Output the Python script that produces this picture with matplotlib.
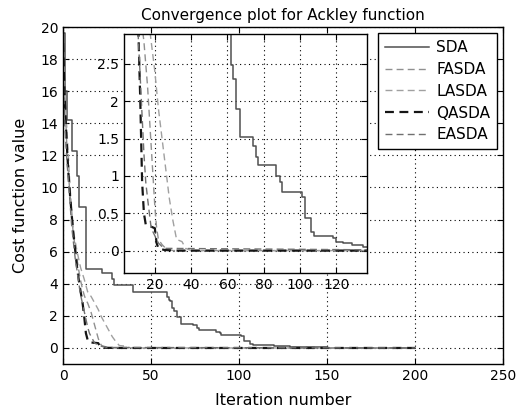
import matplotlib
matplotlib.use("Agg")
import matplotlib.pyplot as plt

plt.rcParams['font.family'] = ['DejaVu Sans']

# === Data ===
# SDA: change points of a step curve
sda_it = [0, 1, 2, 5, 8, 9, 13, 22, 28, 29, 40, 59, 60, 61, 62, 63, 65, 67,
          74, 76, 77, 87, 89, 90, 101, 103, 106, 108, 118, 120, 124, 129, 135,
          150, 200]
sda_val = [19.6, 16.0, 14.2, 12.3, 10.7, 8.8, 4.9, 4.7, 4.3, 3.9, 3.46, 3.2,
           3.0, 2.9, 2.48, 2.3, 1.9, 1.52, 1.4, 1.25, 1.15, 1.0, 0.92, 0.78,
           0.72, 0.43, 0.25, 0.2, 0.17, 0.12, 0.10, 0.07, 0.05, 0.01, 0.01]

fasda_it = [0, 1, 2, 3, 4, 5, 6, 7, 8, 9, 10, 11, 12, 13, 14, 15, 16, 17, 18,
            19, 20, 21, 22, 24, 26, 30, 200]
fasda_val = [18, 16, 13, 11, 9.5, 8, 7, 6.2, 5.5, 4.8, 4.2, 3.7, 3.3, 3.0, 2.8,
             2.5, 2.2, 1.8, 1.4, 1.0, 0.6, 0.3, 0.15, 0.08, 0.03, 0.0, 0.0]

lasda_it = [0, 1, 2, 3, 4, 5, 6, 8, 10, 12, 14, 16, 18, 20, 22, 24, 26, 28, 30,
            32, 35, 37, 40, 200]
lasda_val = [19, 16, 14, 12, 10, 8.5, 7.2, 6.0, 5.0, 4.3, 3.5, 3.2, 2.8, 2.4,
             1.9, 1.5, 1.1, 0.7, 0.4, 0.15, 0.12, 0.03, 0.0, 0.0]

qasda_it = [0, 1, 2, 3, 4, 5, 6, 7, 8, 9, 10, 11, 12, 13, 14, 15, 20, 21, 22,
            25, 30, 200]
qasda_val = [19, 15.5, 13, 11, 9.5, 8.2, 7, 6, 5, 4.2, 3.5, 2.9, 2.0, 0.92,
             0.5, 0.35, 0.3, 0.1, 0.03, 0.01, 0.0, 0.0]

easda_it = [0, 1, 2, 3, 4, 5, 6, 7, 8, 9, 10, 11, 12, 13, 14, 15, 16, 17, 18,
            20, 22, 25, 200]
easda_val = [17, 14, 12, 10.5, 9, 7.5, 6.5, 5.5, 4.8, 4.0, 3.3, 2.8, 2.3, 1.8,
             1.3, 0.92, 0.7, 0.5, 0.3, 0.2, 0.1, 0.03, 0.0]

main_xticks = [0, 50, 100, 150, 200, 250]
main_yticks = list(range(0, 21, 2))
inset_xticks = [20, 40, 60, 80, 100, 120]
inset_yticks = [0, 0.5, 1, 1.5, 2, 2.5]


def draw_curves(ax, with_labels):
    lab = (lambda s: s) if with_labels else (lambda s: "_" + s)
    ax.plot(sda_it, sda_val, drawstyle="steps-post", color="#505050",
            lw=1.1, ls="-", label=lab("SDA"))
    ax.plot(fasda_it, fasda_val, color="#909090", lw=1.0, ls=(0, (5, 3)),
            label=lab("FASDA"))
    ax.plot(lasda_it, lasda_val, color="#a0a0a0", lw=1.0, ls=(0, (5, 3)),
            label=lab("LASDA"))
    ax.plot(qasda_it, qasda_val, color="#151515", lw=1.6, ls=(0, (4, 2.5)),
            label=lab("QASDA"))
    ax.plot(easda_it, easda_val, color="#707070", lw=1.0, ls=(0, (5, 3)),
            label=lab("EASDA"))


def style_axes(ax, fs):
    ax.grid(True, ls=(0, (1, 3)), color="black", lw=0.8)
    ax.tick_params(direction="in", top=True, right=True, labelsize=fs,
                   length=4, width=0.8)
    for sp in ax.spines.values():
        sp.set_linewidth(1.0)


fig = plt.figure(figsize=(5.17, 4.20), dpi=100)

# === Main axes ===
ax = fig.add_axes([0.1219, 0.1333, 0.851, 0.8024])
draw_curves(ax, True)
ax.set_xlim(0, 250)
ax.set_ylim(-1, 20)
ax.set_xticks(main_xticks)
ax.set_yticks(main_yticks)
style_axes(ax, 10)
ax.set_title("Convergence plot for Ackley function", fontsize=11, pad=5)
ax.set_xlabel("Iteration number", fontsize=11.5, labelpad=7)
ax.set_ylabel("Cost function value", fontsize=11.5, labelpad=9)
leg = ax.legend(loc="upper right", fontsize=11, handlelength=2.9,
                handletextpad=0.45, borderaxespad=0.4, labelspacing=0.45,
                fancybox=False, framealpha=1, edgecolor="black",
                borderpad=0.45)
leg.get_frame().set_linewidth(1.0)

# === Inset axes ===
axin = fig.add_axes([0.2398, 0.35, 0.4700, 0.569])
draw_curves(axin, False)
axin.set_xlim(3, 137)
axin.set_ylim(-0.3, 2.9)
axin.set_xticks(inset_xticks)
axin.set_yticks(inset_yticks)
axin.set_yticklabels(["0", "0.5", "1", "1.5", "2", "2.5"])
style_axes(axin, 10)

fig.savefig("out.png", dpi=100)
